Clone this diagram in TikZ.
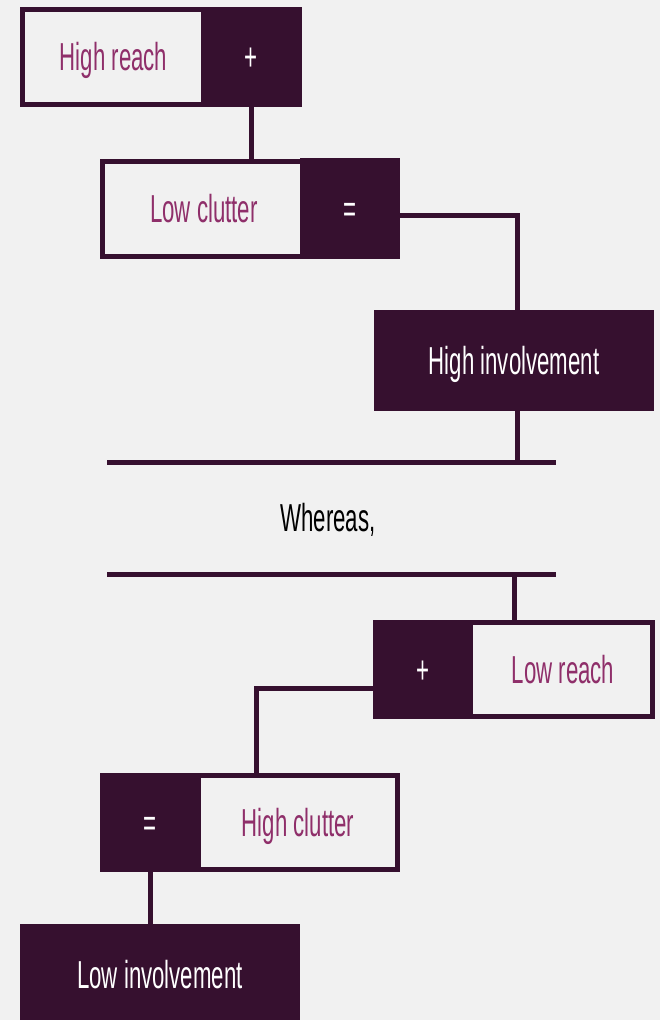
\documentclass[tikz,border=0pt]{standalone}
\usepackage{fontspec}
\newfontfamily\narrowfont[FakeStretch=0.57]{Liberation Sans}
\definecolor{bgc}{HTML}{F1F1F1}
\definecolor{plum}{HTML}{36102F}
\definecolor{berry}{HTML}{8F2F6A}
\begin{document}
\begin{tikzpicture}[x=1pt,y=-1pt,
  every node/.style={font=\narrowfont\fontsize{39}{44}\selectfont,
    inner sep=0pt, outer sep=0pt, text height=28pt, text depth=0pt},
  labelbox/.style={draw=plum, line width=5pt, fill=bgc, text=berry},
  opbox/.style={fill=plum, text=white, minimum width=100.5pt, minimum height=100.5pt},
  resultbox/.style={fill=plum, text=white, minimum width=280pt, minimum height=100.5pt},
  link/.style={draw=plum, line width=5pt}]
\useasboundingbox (0,0) rectangle (660,1020);
\fill[bgc] (0,0) rectangle (660,1020);

% first chain
\node[labelbox, minimum width=183pt, minimum height=95.5pt] (hr) at (113.5,56.75) {High reach};
\node[opbox] (hrop) at (251.25,56.75) {+};
\node[labelbox, minimum width=203pt, minimum height=95pt] (lc) at (204,208.5) {Low clutter};
\node[opbox] (lcop) at (349.75,208.5) {=};
\node[resultbox] (hi) at (514,360.25) {High involvement};

\draw[link] (hrop.south) -- (hrop.south |- lc.north);
\draw[link] ([yshift=-6.5pt]lcop.east) -| ([xshift=3pt]hi.north);

% separator
\coordinate (l1a) at (107,462);
\coordinate (l1b) at (556,462);
\coordinate (l2a) at (107,574);
\coordinate (l2b) at (556,574);
\draw[link] (l1a) -- (l1b);
\draw[link] ([xshift=3pt]hi.south) -- ([xshift=3pt]hi.south |- l1a);
\node[text=black] (wh) at (328,517) {Whereas,};
\draw[link] (l2a) -- (l2b);

% second chain
\node[labelbox, minimum width=282pt-5pt, minimum height=94pt] (lr) at (514,669.5) {};
\node[opbox, minimum height=99pt] (lrop) at (423,669.5) {+};
\node[text=berry] (lrt) at (563,669.5) {Low reach};
\node[labelbox, minimum width=295pt, minimum height=94.5pt] (hc) at (249.5,822.25) {};
\node[opbox, minimum height=99.5pt, minimum width=101.5pt] (hcop) at (150.25,822.25) {=};
\node[text=berry] (hct) at (298,822.25) {High clutter};
\node[resultbox, minimum height=100pt] (li) at (160,974) {Low involvement};

\draw[link] (lr.north |- l2a) -- (lr.north);
\draw[link] ([yshift=-18.5pt]lrop.west) -| ([xshift=6.5pt]hc.north);
\draw[link] (hcop.south) -- (hcop.south |- li.north);
\end{tikzpicture}
\end{document}
